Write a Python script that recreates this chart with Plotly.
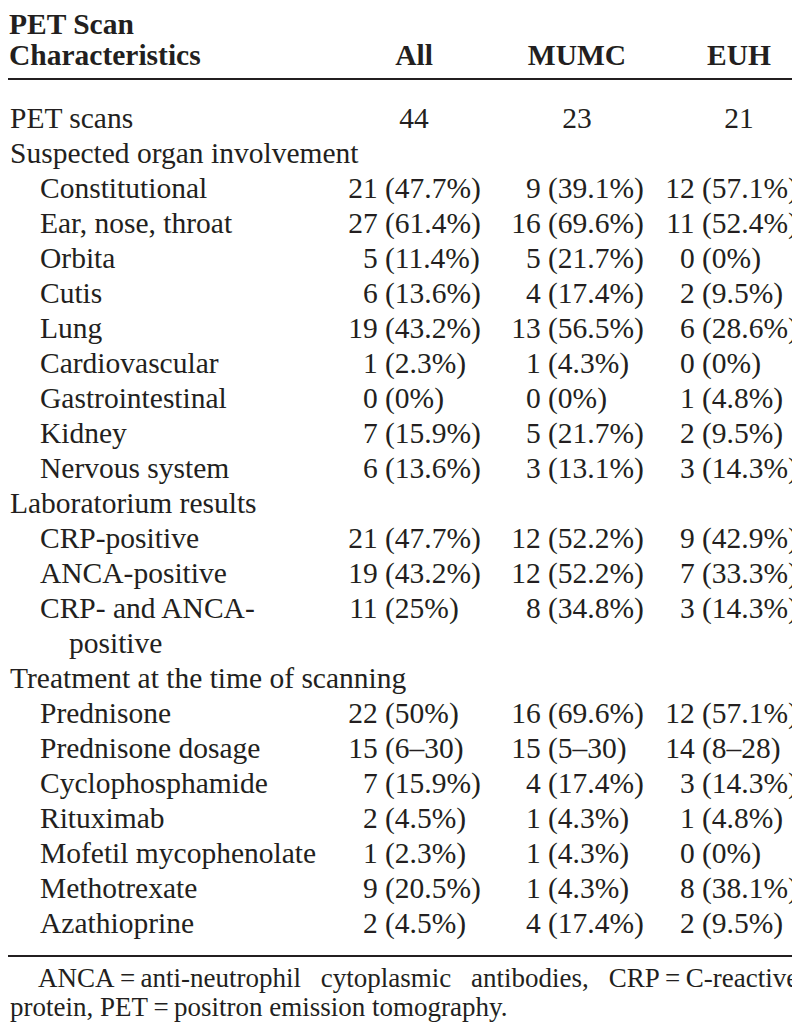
import plotly.graph_objects as go

# table content
row_labels = [
    "PET scans", "Suspected organ involvement", "Constitutional", "Ear, nose, throat",
    "Orbita", "Cutis", "Lung", "Cardiovascular", "Gastrointestinal", "Kidney",
    "Nervous system", "Laboratorium results", "CRP-positive", "ANCA-positive",
    "CRP- and ANCA-", "positive", "Treatment at the time of scanning", "Prednisone",
    "Prednisone dosage", "Cyclophosphamide", "Rituximab", "Mofetil mycophenolate",
    "Methotrexate", "Azathioprine",
]
row_level = [0, 0, 1, 1, 1, 1, 1, 1, 1, 1, 1, 0, 1, 1, 1, 2, 0, 1, 1, 1, 1, 1, 1, 1]

columns = ["All", "MUMC", "EUH"]
all_n = ["44", "", "21", "27", "5", "6", "19", "1", "0", "7", "6", "", "21", "19", "11", "",
         "", "22", "15", "7", "2", "1", "9", "2"]
all_p = ["", "", "(47.7%)", "(61.4%)", "(11.4%)", "(13.6%)", "(43.2%)", "(2.3%)", "(0%)",
         "(15.9%)", "(13.6%)", "", "(47.7%)", "(43.2%)", "(25%)", "", "", "(50%)", "(6–30)",
         "(15.9%)", "(4.5%)", "(2.3%)", "(20.5%)", "(4.5%)"]
mumc_n = ["23", "", "9", "16", "5", "4", "13", "1", "0", "5", "3", "", "12", "12", "8", "",
          "", "16", "15", "4", "1", "1", "1", "4"]
mumc_p = ["", "", "(39.1%)", "(69.6%)", "(21.7%)", "(17.4%)", "(56.5%)", "(4.3%)", "(0%)",
          "(21.7%)", "(13.1%)", "", "(52.2%)", "(52.2%)", "(34.8%)", "", "", "(69.6%)", "(5–30)",
          "(17.4%)", "(4.3%)", "(4.3%)", "(4.3%)", "(17.4%)"]
euh_n = ["21", "", "12", "11", "0", "2", "6", "0", "1", "2", "3", "", "9", "7", "3", "",
         "", "12", "14", "3", "1", "0", "8", "2"]
euh_p = ["", "", "(57.1%)", "(52.4%)", "(0%)", "(9.5%)", "(28.6%)", "(0%)", "(4.8%)",
         "(9.5%)", "(14.3%)", "", "(42.9%)", "(33.3%)", "(14.3%)", "", "", "(57.1%)", "(8–28)",
         "(14.3%)", "(4.8%)", "(0%)", "(38.1%)", "(9.5%)"]

GAP = " \u2009\u2009\u200a"  # widened word gap, the first note line is justified
footnote = ["ANCA\u2009=\u2009anti-neutrophil" + GAP + "cytoplasmic" + GAP + "antibodies,"
            + GAP + "CRP\u2009=\u2009C-reactive",
            "protein, PET\u2009=\u2009positron emission tomography."]

FONT = "Liberation Serif, Times New Roman, serif"
INK = "#231f20"
W, H = 800, 1025
FS = 29.5
ROW0, PITCH = 113, 35.0
col_center = [406, 569, 731]
col_paren = [377, 540, 694]
space = 0.25 * FS
indent = [2, 32, 61]

ys = [ROW0 + i * PITCH for i in range(len(row_labels))]

fig = go.Figure()


def text_trace(x, y, text, pos, size=FS, bold=False):
    fig.add_trace(go.Scatter(
        x=x, y=y, text=text, mode="text", textposition=pos,
        textfont=dict(family=FONT, size=size, color=INK,
                      weight="bold" if bold else "normal"),
        hoverinfo="skip", showlegend=False, cliponaxis=False,
    ))


# header
text_trace([1, 1], [19, 50], ["PET Scan", "Characteristics"], "middle right", bold=True)
text_trace(col_center, [50] * 3, columns, "middle center", bold=True)

# row labels
text_trace([indent[l] for l in row_level], ys, row_labels, "middle right")

# values: first row centred, the rest aligned on the parenthesis
for c, (ns, ps) in enumerate([(all_n, all_p), (mumc_n, mumc_p), (euh_n, euh_p)]):
    text_trace([col_center[c]], [ys[0]], [ns[0]], "middle center")
    idx = [i for i in range(1, len(ns)) if ns[i]]
    text_trace([col_paren[c] - space] * len(idx), [ys[i] for i in idx],
               [ns[i] for i in idx], "middle left")
    text_trace([col_paren[c]] * len(idx), [ys[i] for i in idx],
               [ps[i] for i in idx], "middle right")

# footnote
text_trace([30, 2], [972, 1001], footnote, "middle right", size=27)

# rules
fig.add_shape(type="line", x0=0, x1=W, y0=71, y1=71, line=dict(color=INK, width=1.8))
fig.add_shape(type="line", x0=0, x1=W, y0=948, y1=948, line=dict(color=INK, width=2))

fig.update_layout(
    width=W, height=H, margin=dict(l=0, r=0, t=0, b=0),
    paper_bgcolor="white", plot_bgcolor="white",
    xaxis=dict(range=[0, W], visible=False, fixedrange=True),
    yaxis=dict(range=[H, 0], visible=False, fixedrange=True),
)

fig.write_html("out.html")
